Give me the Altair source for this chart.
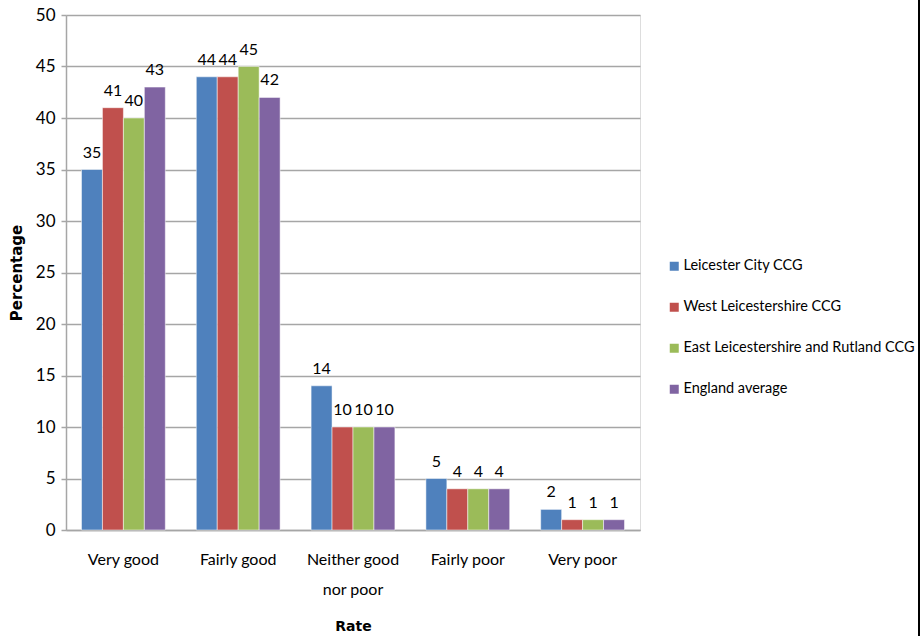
import altair as alt
import pandas as pd

categories = ["Very good", "Fairly good", "Neither good nor poor", "Fairly poor", "Very poor"]
series = ["Leicester City CCG", "West Leicestershire CCG",
          "East Leicestershire and Rutland CCG", "England average"]
leicester_city = [35, 44, 14, 5, 2]
west_leics = [41, 44, 10, 4, 1]
east_leics_rutland = [40, 45, 10, 4, 1]
england_avg = [43, 42, 10, 4, 1]
colors = ["#4F81BD", "#C0504D", "#9BBB59", "#8064A2"]

rows = []
for name, vals in zip(series, [leicester_city, west_leics, east_leics_rutland, england_avg]):
    for cat, v in zip(categories, vals):
        rows.append({"Rate": cat, "Series": name, "Percentage": v})
df = pd.DataFrame(rows)

FONT = "Liberation Sans Narrow, Lato, sans-serif"

x_enc = alt.X(
    "Rate:N", sort=categories,
    scale=alt.Scale(paddingInner=0.27, paddingOuter=0.135),
    axis=alt.Axis(
        title="Rate", labelAngle=0, ticks=False, labelPadding=21,
        labelExpr="datum.value == 'Neither good nor poor' ? ['Neither good', 'nor poor'] : datum.value",
        labelFont=FONT, labelFontSize=16, labelColor="#000000", labelLineHeight=30,
        titleFont="DejaVu Sans", titleFontSize=14, titleFontWeight="bold", titlePadding=22,
        domainColor="#A6A6A6", domainWidth=1.5,
    ),
)
y_enc = alt.Y(
    "Percentage:Q",
    scale=alt.Scale(domain=[0, 50]),
    axis=alt.Axis(
        values=list(range(0, 51, 5)), title="Percentage",
        labelFont=FONT, labelFontSize=17, labelColor="#000000", labelPadding=6,
        tickSize=5, tickColor="#A6A6A6", tickWidth=1.5,
        gridColor="#A6A6A6", gridWidth=1.5,
        domainColor="#A6A6A6", domainWidth=1.5,
        titleFont="DejaVu Sans", titleFontSize=15, titleFontWeight="bold", titlePadding=11,
    ),
)
xoff = alt.XOffset("Series:N", sort=series)
color = alt.Color(
    "Series:N", sort=series,
    scale=alt.Scale(domain=series, range=colors),
    legend=alt.Legend(
        title=None, orient="none", legendX=601, legendY=244,
        symbolType="square", symbolSize=81, symbolStrokeWidth=0,
        labelFont=FONT, labelFontSize=14.5, labelColor="#000000",
        rowPadding=26, labelOffset=2, labelLimit=300,
    ),
)

base = alt.Chart(df)
bars = base.mark_bar(stroke="white", strokeWidth=0.5).encode(x=x_enc, y=y_enc, xOffset=xoff, color=color)
labels = base.mark_text(baseline="bottom", dy=-9, font=FONT, fontSize=16, color="#000000").encode(
    x=alt.X("Rate:N", sort=categories), y="Percentage:Q", xOffset=xoff, text="Percentage:Q"
)
edge = alt.Chart(pd.DataFrame({"v": [0]})).mark_rule(color="#000000", strokeWidth=2).encode(
    x=alt.value(853), y=alt.value(-15), y2=alt.value(621)
)

chart = (
    alt.layer(bars, labels, edge)
    .properties(width=574, height=515, autosize=alt.AutoSizeParams(type="none"),
                padding={"left": 66, "top": 15, "right": 282, "bottom": 106})
    .configure_view(stroke=None)
    .configure(background="white")
)
chart.save("out.html", embed_options={"renderer": "svg", "actions": False})
